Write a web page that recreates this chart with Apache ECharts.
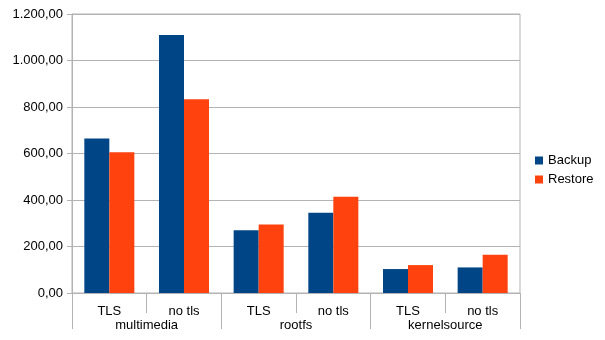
<!DOCTYPE html>
<html><head><meta charset="utf-8">
<script src="https://cdn.jsdelivr.net/npm/echarts@6/dist/echarts.min.js"></script>
<style>html,body{margin:0;padding:0;background:#fff}#c{width:605px;height:340px}</style>
</head><body><div id="c"></div>
<script>
const subCategories = ['TLS','no tls','TLS','no tls','TLS','no tls'];
const groups = ['multimedia','rootfs','kernelsource'];
const backup = [665, 1110, 270, 345, 103, 110];
const restore = [605, 833, 295, 414, 120, 165];
const yTicks = [0, 200, 400, 600, 800, 1000, 1200];

function fmt(v){
  const s = v.toFixed(2).split('.');
  const int = s[0].replace(/\B(?=(\d{3})+(?!\d))/g, '.');
  return int + ',' + s[1];
}
const grey = '#b3b3b3';
const font = 'Liberation Sans';
const chart = echarts.init(document.getElementById('c'));
chart.setOption({
  animation:false,
  textStyle:{fontFamily:font},
  grid:{left:72,right:85,top:14,bottom:47,show:true,borderColor:grey,borderWidth:1},
  legend:{orient:'vertical',left:530,top:'middle',itemWidth:8,itemHeight:8,itemGap:6,icon:'rect',
    textStyle:{fontFamily:font,fontSize:13,color:'#000'},data:['Backup','Restore']},
  xAxis:[{type:'category',data:subCategories,
    axisLine:{lineStyle:{color:grey}},
    axisTick:{show:true,length:20,interval:0,lineStyle:{color:grey}},
    axisLabel:{interval:0,margin:12,fontFamily:font,fontSize:13,color:'#000'}},
   {type:'category',data:groups,position:'bottom',
    axisLine:{show:false},
    axisTick:{show:true,length:36,interval:0,lineStyle:{color:grey}},
    axisLabel:{interval:0,margin:26,fontFamily:font,fontSize:13,color:'#000'}}],
  yAxis:{type:'value',min:0,max:1200,interval:200,
    axisLine:{show:true,lineStyle:{color:grey}},
    axisTick:{show:true,length:5,lineStyle:{color:grey}},
    splitLine:{lineStyle:{color:grey}},
    axisLabel:{margin:9,fontFamily:font,fontSize:13,color:'#000',formatter:fmt}},
  series:[
    {name:'Backup',type:'bar',data:backup,barGap:'0%',barCategoryGap:'33%',itemStyle:{color:'#004586'}},
    {name:'Restore',type:'bar',data:restore,barGap:'0%',barCategoryGap:'33%',itemStyle:{color:'#ff420e'}}
  ]
});
</script></body></html>
